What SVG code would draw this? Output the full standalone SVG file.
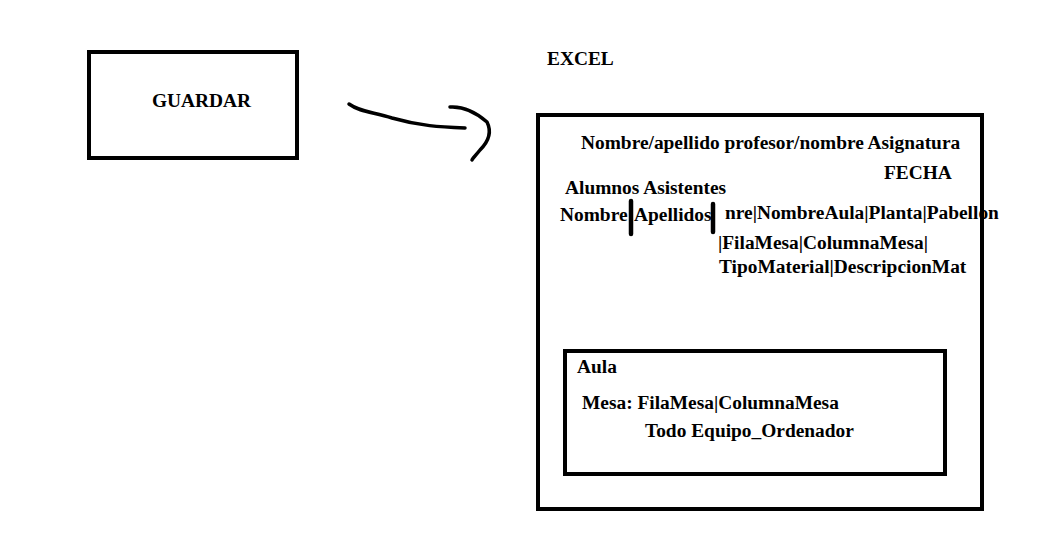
<svg xmlns="http://www.w3.org/2000/svg" width="1037" height="542" viewBox="0 0 1037 542">
<style>
text{font-family:"Liberation Serif","Times New Roman",serif;font-weight:bold;font-size:19.4px;fill:#000}
.box{fill:none;stroke:#000;stroke-width:4}
.ink{fill:none;stroke:#000;stroke-width:3.5;stroke-linecap:round;stroke-linejoin:round}
.bar{stroke:#000;stroke-width:4.5;stroke-linecap:round}
</style>
<rect width="1037" height="542" fill="#fff"/>
<g id="guardar">
<rect class="box" x="89" y="52" width="208" height="106"/>
<text x="152" y="107">GUARDAR</text>
</g>
<g id="connectors">
<path class="ink" d="M349,104 C360,112 373,112 392,118 C420,126 440,127 465,128"/>
<path class="ink" d="M450,107 C465,106 478,114 487,122 C492,132 488,142 480,150 C476,155 473,158 472,160"/>
</g>
<g id="excel">
<text x="547" y="65">EXCEL</text>
<text x="581" y="149">Nombre/apellido profesor/nombre Asignatura</text>
<text x="884" y="179">FECHA</text>
<text x="565" y="194">Alumnos Asistentes</text>
<text x="560" y="221">Nombre</text>
<text x="634" y="221">Apellidos</text>
<text x="725" y="219">nre|NombreAula|Planta|Pabellon</text>
<text x="718" y="249">|FilaMesa|ColumnaMesa|</text>
<text x="719" y="273">TipoMaterial|DescripcionMat</text>
<line class="bar" x1="631" y1="201" x2="631" y2="234"/>
<line class="bar" x1="713" y1="204" x2="713" y2="232"/>
<rect class="box" x="538" y="115" width="444" height="394"/>
</g>
<g id="aula">
<rect class="box" x="565" y="351" width="380" height="123"/>
<text x="577" y="373">Aula</text>
<text x="582" y="409">Mesa: FilaMesa|ColumnaMesa</text>
<text x="645" y="437">Todo Equipo_Ordenador</text>
</g>
</svg>
